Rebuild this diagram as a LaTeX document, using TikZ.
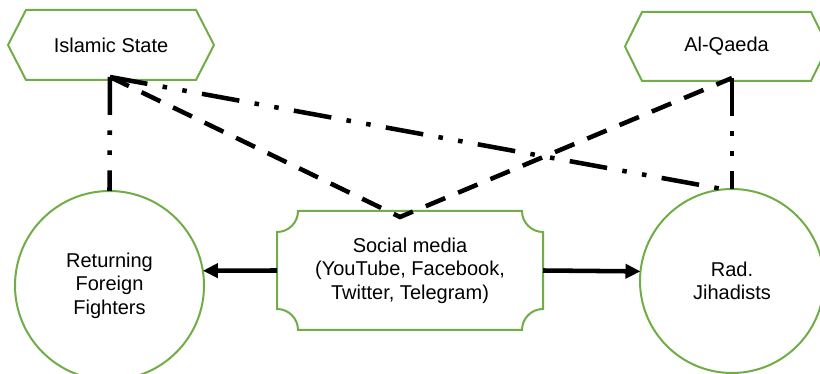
\documentclass[tikz,border=0pt]{standalone}
\usepackage{fontspec}
\setmainfont{Liberation Sans}
\usetikzlibrary{arrows.meta,calc}
\definecolor{leaf}{HTML}{70AD47}
\begin{document}
\begin{tikzpicture}[x=0.75pt,y=0.75pt,
  txt/.style={font=\fontsize{15}{17.6}\selectfont, align=center, text=black},
  frame/.style={draw=leaf, line width=1.5pt},
  hexcore/.style={txt, inner sep=0pt, outer sep=0pt, minimum width=#1, minimum height=52.5pt},
  ring/.style={frame, circle, txt, inner sep=0pt, outer sep=0pt, minimum size=#1},
  link/.style={line width=3.4pt},
  dashdotdot/.style={link, dash pattern=on 28.5pt off 11.6pt on 3.4pt off 11.6pt on 3.4pt off 11.6pt},
  dashline/.style={link, dash pattern=on 15.75pt off 10.5pt, miter limit=10},
  flow/.style={line width=3.4pt, -{Triangle[length=11.25pt,width=10.5pt]}}
]
\useasboundingbox (0,0) rectangle (820,374);
\clip (0,0) rectangle (820,374);

% group labels (hexagon frames drawn around their cores)
\node[hexcore=127.5pt] (is) at (111,329) {Islamic State};
\node[hexcore=126.75pt, minimum height=51.75pt] (aq) at (726.5,327.5) {Al-Qaeda};
\draw[frame] (is.north west) -- (is.north east) -- ($(is.east)+(18,0)$) -- (is.south east)
  -- (is.south west) -- ($(is.west)+(-18,0)$) -- cycle;
\draw[frame] (aq.north west) -- (aq.north east) -- ($(aq.east)+(17,0)$) -- (aq.south east)
  -- (aq.south west) -- ($(aq.west)+(-17,0)$) -- cycle;

% actors
\node[ring=141.75pt] (rff) at (109.5,88.5) {Returning\\Foreign\\Fighters};
\node[ring=138pt] (rj) at (732,93) {Rad.\\Jihadists};

% social media box with concave corners
\node[txt, inner sep=0pt, outer sep=0pt, minimum width=199.5pt, minimum height=89.25pt] (sm)
  at (410,103.5) {Social media\\(YouTube, Facebook,\\Twitter, Telegram)};
\draw[frame] ($(sm.north west)+(21,0)$) -- ($(sm.north east)+(-21,0)$)
  arc[start angle=180, end angle=270, radius=21]
  -- ($(sm.south east)+(0,21)$)
  arc[start angle=90, end angle=180, radius=21]
  -- ($(sm.south west)+(21,0)$)
  arc[start angle=0, end angle=90, radius=21]
  -- ($(sm.north west)+(0,-21)$)
  arc[start angle=270, end angle=360, radius=21] -- cycle;

% connector ends
\coordinate (isp) at ($(is.south)+(-1,3)$);
\coordinate (aqp) at ($(aq.south)+(5.5,3)$);
\coordinate (v) at ($(sm.north)+(-10,-6)$);

% links
\draw[dashdotdot] (isp) -- (rff.north);
\draw[dashdotdot] (aqp) -- (rj.north);
\draw[dashdotdot] (isp) -- (rj.95);
\draw[dashline] (isp) -- (v) -- (aqp);
\draw[flow] (sm.west) -- (rff.9);
\draw[flow] (sm.east) -- (rj.174);
\end{tikzpicture}
\end{document}
